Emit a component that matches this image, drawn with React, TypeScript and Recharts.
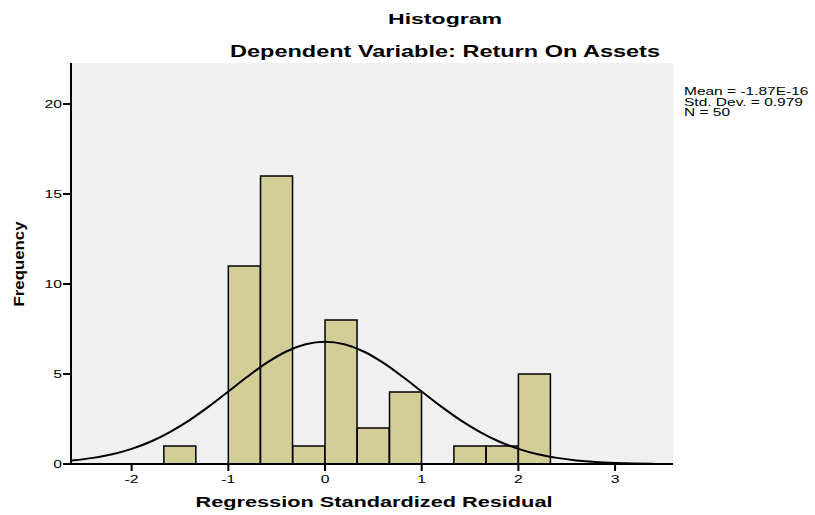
import { ComposedChart, Bar, Line, XAxis, YAxis, CartesianGrid } from 'recharts';

// histogram bins (lower edge, width 1/3) and counts
const binStart = [-1.667, -1.333, -1, -0.667, -0.333, 0, 0.333, 0.667, 1, 1.333, 1.667, 2];
const frequency = [1, 0, 11, 16, 1, 8, 2, 4, 0, 1, 1, 5];
const BIN_WIDTH = 1 / 3;

// normal curve
const curveX = [-2.62, -2.4, -2.2, -2, -1.8, -1.6, -1.4, -1.2, -1, -0.8, -0.6, -0.4, -0.2, 0,
  0.2, 0.4, 0.6, 0.8, 1, 1.2, 1.4, 1.6, 1.8, 2, 2.2, 2.4, 2.6, 2.8, 3, 3.2, 3.4];
const curveY = [0.19, 0.34, 0.54, 0.84, 1.25, 1.79, 2.44, 3.2, 4.03, 4.86, 5.63, 6.25, 6.65, 6.79,
  6.65, 6.25, 5.63, 4.86, 4.03, 3.2, 2.44, 1.79, 1.25, 0.84, 0.54, 0.34, 0.2, 0.11, 0.06, 0.03, 0.01];

const xTicks = [-2, -1, 0, 1, 2, 3];
const yTicks = [0, 5, 10, 15, 20];
const stats = ['Mean = -1.87E-16', 'Std. Dev. = 0.979', 'N = 50'];

const X_DOMAIN: [number, number] = [-2.627, 3.599];
const Y_DOMAIN: [number, number] = [0, 22.28];

const FONT = '"Liberation Sans", Arial, sans-serif';

const bins = binStart.map((s, i) => ({ mid: s + BIN_WIDTH / 2, count: frequency[i] }));
const curve = curveX.map((x, i) => ({ x, y: curveY[i] }));

const XTick = ({ x, y, payload }: any) => (
  <text
    transform={`translate(${x},${y}) scale(1.5,1)`}
    textAnchor="middle"
    dy="0.71em"
    fontSize={10.5}
    fontFamily={FONT}
    fill="#000"
  >
    {payload.value}
  </text>
);

const YTick = ({ x, y, payload }: any) => (
  <text
    transform={`translate(${x},${y}) scale(1.5,1)`}
    textAnchor="end"
    dy="0.35em"
    fontSize={10.5}
    fontFamily={FONT}
    fill="#000"
  >
    {payload.value}
  </text>
);

export default function App() {
  return (
    <div style={{ position: 'absolute', left: 0, top: 0, width: 815, height: 515, background: '#fff' }}>
      <ComposedChart
        width={815}
        height={515}
        data={bins}
        margin={{ top: 63, right: 142, bottom: 0, left: 0 }}
        barCategoryGap={0}
        barGap={0}
      >
        <CartesianGrid fill="#f0f0f0" horizontal={false} vertical={false} />
        <XAxis
          dataKey="mid"
          type="number"
          domain={X_DOMAIN}
          allowDataOverflow
          ticks={xTicks}
          interval={0}
          height={51}
          tickSize={7}
          tickMargin={5}
          tick={<XTick />}
          tickLine={{ stroke: '#000', strokeWidth: 2 }}
          axisLine={{ stroke: '#000', strokeWidth: 2 }}
        />
        <XAxis
          xAxisId="top"
          orientation="top"
          dataKey="x"
          type="number"
          domain={X_DOMAIN}
          allowDataOverflow
          height={0}
          tick={false}
          tickLine={false}
          axisLine={{ stroke: '#000', strokeWidth: 2 }}
        />
        <YAxis
          type="number"
          domain={Y_DOMAIN}
          allowDataOverflow
          ticks={yTicks}
          interval={0}
          width={71}
          tickSize={8}
          tickMargin={1}
          tick={<YTick />}
          tickLine={{ stroke: '#000', strokeWidth: 2 }}
          axisLine={{ stroke: '#000', strokeWidth: 2 }}
        />
        <YAxis
          yAxisId="right"
          orientation="right"
          type="number"
          domain={Y_DOMAIN}
          allowDataOverflow
          width={0}
          tick={false}
          tickLine={false}
          axisLine={{ stroke: '#000', strokeWidth: 2 }}
        />
        <Bar dataKey="count" fill="#d3ce97" stroke="#000" strokeWidth={1.5} isAnimationActive={false} />
        <Line
          data={curve}
          xAxisId="top"
          dataKey="y"
          type="monotone"
          stroke="#000"
          strokeWidth={2}
          dot={false}
          activeDot={false}
          isAnimationActive={false}
        />
      </ComposedChart>
      <svg
        width={815}
        height={515}
        style={{ position: 'absolute', left: 0, top: 0, pointerEvents: 'none' }}
        fontFamily={FONT}
      >
        <text x={445} y={24} textAnchor="middle" fontSize={15.5} fontWeight="bold" textLength={114} lengthAdjust="spacingAndGlyphs">
          Histogram
        </text>
        <text x={445} y={57} textAnchor="middle" fontSize={16.5} fontWeight="bold" textLength={430} lengthAdjust="spacingAndGlyphs">
          Dependent Variable: Return On Assets
        </text>
        <text x={374} y={507} textAnchor="middle" fontSize={14} fontWeight="bold" textLength={357} lengthAdjust="spacingAndGlyphs">
          Regression Standardized Residual
        </text>
        <text
          transform="translate(23.5,264) rotate(-90)"
          textAnchor="middle"
          fontSize={15}
          fontWeight="bold"
          textLength={85}
          lengthAdjust="spacingAndGlyphs"
        >
          Frequency
        </text>
        {stats.map((s, i) => (
          <text
            key={s}
            x={0}
            y={0}
            fontSize={10}
            transform={`translate(684,${95 + i * 10.5}) scale(1.55,1)`}
          >
            {s}
          </text>
        ))}
      </svg>
    </div>
  );
}
